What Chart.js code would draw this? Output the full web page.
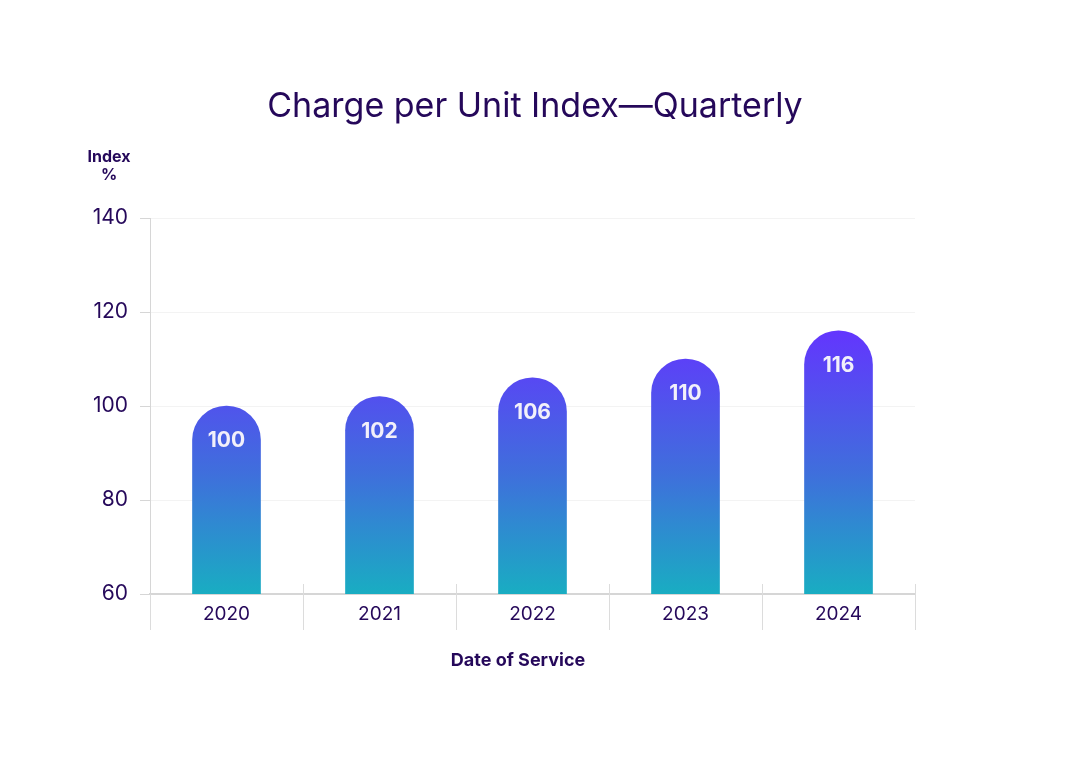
<!DOCTYPE html>
<html>
<head>
<meta charset="utf-8">
<script src="https://cdn.jsdelivr.net/npm/chart.js@4/dist/chart.umd.min.js"></script>
<style>
    html, body { margin: 0; padding: 0; background: #fff; }
    canvas { display: block; }
</style>
</head>
<body>
<canvas id="cpuChart" width="1071" height="758"></canvas>
<script>
const years = ['2020', '2021', '2022', '2023', '2024'];
const indexValues = [100, 102, 106, 110, 116];
const yTicks = [60, 80, 100, 120, 140];

const textColor = '#25085a';
const fontFamily = "'Inter', 'Noto Sans', sans-serif";

// gradient from teal at the axis up to violet
function barGradient(ctx) {
    const chart = ctx.chart;
    const area = chart.chartArea;
    if (!area) return '#5a3cf5';
    const y = chart.scales.y;
    const g = chart.ctx.createLinearGradient(0, area.bottom, 0, y.getPixelForValue(117));
    g.addColorStop(0, '#19adc2');
    g.addColorStop(0.45, '#3f6fdc');
    g.addColorStop(1, '#6434ff');
    return g;
}

const extrasPlugin = {
    id: 'extras',
    afterDraw(chart) {
        const c = chart.ctx;
        const area = chart.chartArea;
        c.save();

        // title
        c.fillStyle = textColor;
        c.textAlign = 'center';
        c.textBaseline = 'middle';
        c.font = `400 34px ${fontFamily}`;
        c.fillText('Charge per Unit Index\u2014Quarterly', 535, 107);

        // y axis title
        c.font = `700 16px ${fontFamily}`;
        c.fillText('Index', 109, 157);
        c.fillText('%', 109, 175);

        // x axis title
        c.font = `700 18px ${fontFamily}`;
        c.fillText('Date of Service', 518, 661);

        // category separators below the axis
        c.strokeStyle = '#dcdcdc';
        c.lineWidth = 1;
        const step = (area.right - area.left) / years.length;
        for (let i = 0; i <= years.length; i++) {
            const px = Math.round(area.left + i * step) + 0.5;
            c.beginPath();
            c.moveTo(px, i === 0 ? area.bottom : area.bottom - 10);
            c.lineTo(px, area.bottom + 36);
            c.stroke();
        }

        // value labels inside the rounded top
        const meta = chart.getDatasetMeta(0);
        c.fillStyle = '#f2f0fa';
        c.font = `700 21px ${fontFamily}`;
        meta.data.forEach((bar, i) => {
            c.fillText(String(indexValues[i]), bar.x, bar.y + 35);
        });
        c.restore();
    }
};

new Chart(document.getElementById('cpuChart').getContext('2d'), {
    type: 'bar',
    data: {
        labels: years,
        datasets: [{
            data: indexValues,
            backgroundColor: barGradient,
            barThickness: 68,
            borderRadius: { topLeft: 34, topRight: 34 },
            borderSkipped: 'bottom'
        }]
    },
    options: {
        responsive: false,
        animation: false,
        layout: { padding: { top: 218, right: 156, bottom: 0, left: 0 } },
        plugins: {
            legend: { display: false },
            tooltip: { enabled: false }
        },
        scales: {
            x: {
                grid: { display: false },
                border: { display: true, color: '#d6d6d6', width: 2 },
                ticks: {
                    color: textColor,
                    padding: 1,
                    font: { family: fontFamily, size: 19 }
                },
                afterFit(scale) { scale.height = 164; }
            },
            y: {
                min: 60,
                max: 140,
                afterBuildTicks(scale) {
                    scale.ticks = yTicks.map(v => ({ value: v }));
                },
                grid: { color: '#f3f3f3', tickColor: '#d6d6d6', tickLength: 10 },
                border: { display: true, color: '#d6d6d6', width: 1 },
                ticks: {
                    color: textColor,
                    padding: 12,
                    font: { family: fontFamily, size: 21 }
                },
                afterFit(scale) { scale.width = 150; }
            }
        }
    },
    plugins: [extrasPlugin]
});
</script>
</body>
</html>
